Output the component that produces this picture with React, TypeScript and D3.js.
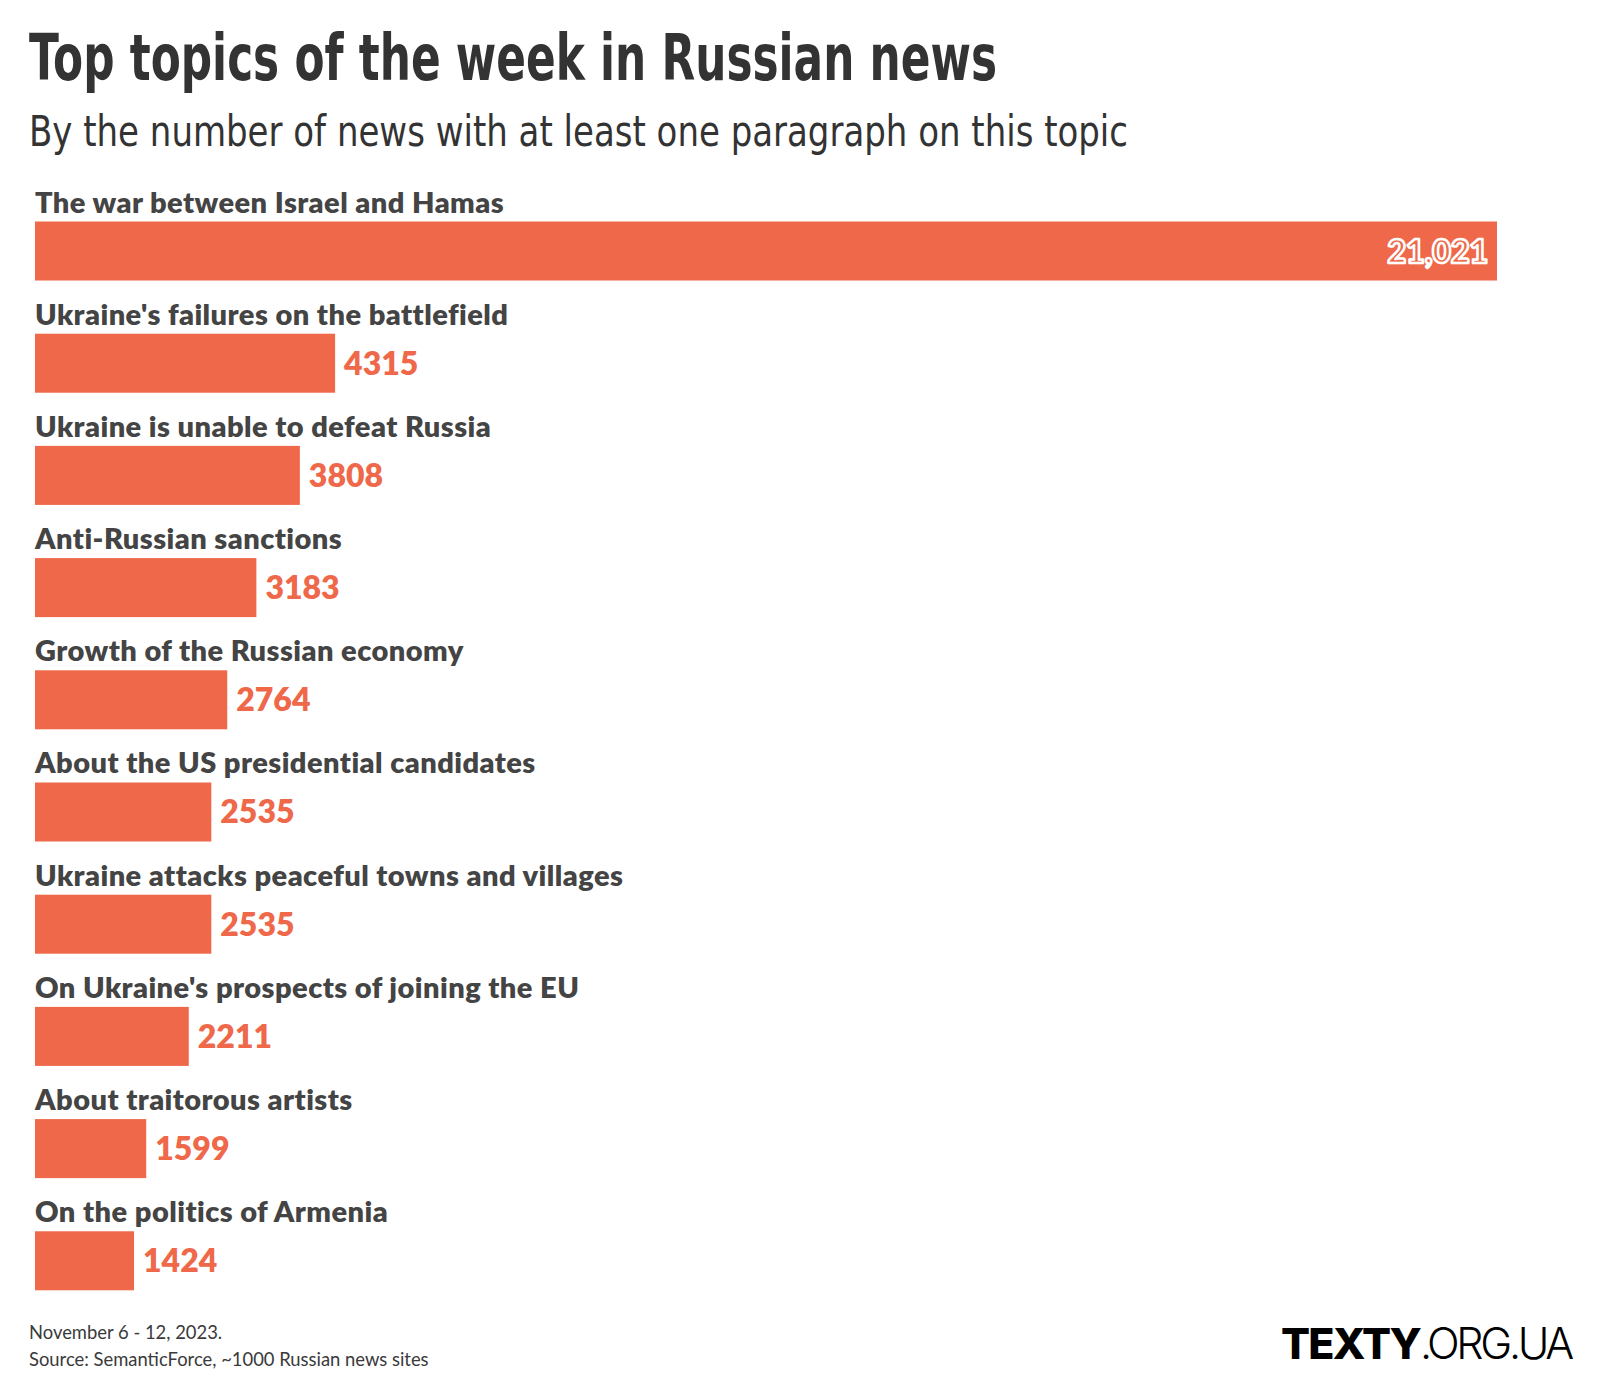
import React from "react";
import * as d3 from "d3";

const categories = [
  "The war between Israel and Hamas",
  "Ukraine's failures on the battlefield",
  "Ukraine is unable to defeat Russia",
  "Anti-Russian sanctions",
  "Growth of the Russian economy",
  "About the US presidential candidates",
  "Ukraine attacks peaceful towns and villages",
  "On Ukraine's prospects of joining the EU",
  "About traitorous artists",
  "On the politics of Armenia",
];
const values = [21021, 4315, 3808, 3183, 2764, 2535, 2535, 2211, 1599, 1424];

const title = "Top topics of the week in Russian news";
const subtitle = "By the number of news with at least one paragraph on this topic";
const footnote1 = "November 6 - 12, 2023.";
const footnote2 = "Source: SemanticForce, ~1000 Russian news sites";

const W = 1600;
const H = 1400;
const BAR = "#EE6849";
const LABEL = "#444444";

export default function App() {
  const left = 35;
  const x = d3.scaleLinear().domain([0, 21021]).range([0, 1462]);
  const y = d3
    .scaleBand<string>()
    .domain(categories)
    .range([221.5, 1290.3])
    .paddingInner(0.474)
    .paddingOuter(0);
  const bw = y.bandwidth();
  const fmt = (v: number) => (v >= 10000 ? d3.format(",")(v) : String(v));

  return (
    <svg
      width={W}
      height={H}
      viewBox={`0 0 ${W} ${H}`}
      style={{ position: "absolute", left: 0, top: 0, background: "#fff" }}
    >
      <rect width={W} height={H} fill="#fff" />
      <text
        x={29}
        y={80}
        fontFamily="'Liberation Sans Narrow', 'DejaVu Sans', sans-serif"
        fontWeight={700}
        fontSize={64}
        fill="#333"
        textLength={968}
        lengthAdjust="spacingAndGlyphs"
      >
        {title}
      </text>
      <text
        x={29}
        y={146}
        fontFamily="'Liberation Sans Narrow', 'DejaVu Sans', sans-serif"
        fontWeight={400}
        fontSize={43}
        fill="#333"
        textLength={1099}
        lengthAdjust="spacingAndGlyphs"
      >
        {subtitle}
      </text>

      {categories.map((c, i) => {
        const top = y(c)!;
        const v = values[i];
        const w = x(v);
        const inside = i === 0;
        return (
          <g key={c}>
            <text
              x={left}
              y={top - 9}
              fontFamily="Lato, sans-serif"
              fontWeight={800}
              fontSize={29}
              letterSpacing={0.45}
              fill={LABEL}
            >
              {c}
            </text>
            <rect x={left} y={top} width={w} height={bw} fill={BAR} />
            {inside ? (
              <text
                x={left + w - 9}
                y={top + bw / 2 + 11.5}
                textAnchor="end"
                fontFamily="Lato, sans-serif"
                fontWeight={800}
                fontSize={32}
                fill={BAR}
                stroke="#fff"
                strokeWidth={2.5}
                strokeLinejoin="round"
              >
                {fmt(v)}
              </text>
            ) : (
              <text
                x={left + w + 9}
                y={top + bw / 2 + 11.5}
                fontFamily="Lato, sans-serif"
                fontWeight={800}
                fontSize={32}
                fill={BAR}
              >
                {fmt(v)}
              </text>
            )}
          </g>
        );
      })}

      <text x={29} y={1339} fontFamily="Lato, sans-serif" fontSize={18.4} fill="#3a3a3a">
        {footnote1}
      </text>
      <text x={29} y={1366} fontFamily="Lato, sans-serif" fontSize={18.4} fill="#3a3a3a">
        {footnote2}
      </text>

      <text
        x={1571}
        y={1359}
        textAnchor="end"
        fontFamily="Inter, sans-serif"
        fontSize={43}
        fill="#000"
      >
        <tspan fontWeight={800} letterSpacing={-1.8}>TEXTY</tspan>
        <tspan fontWeight={300} letterSpacing={-3.3}>.ORG.UA</tspan>
      </text>
    </svg>
  );
}
